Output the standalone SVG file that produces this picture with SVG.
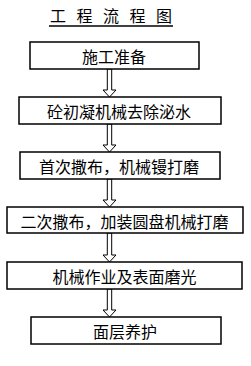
<svg xmlns="http://www.w3.org/2000/svg" width="251" height="366" viewBox="0 0 251 366">
<style>
.box{fill:#fff;stroke:#000;stroke-width:1.5}
.lbl{font-family:"Noto Sans CJK SC","Noto Sans",sans-serif;font-size:16px;fill:#000;text-anchor:middle;dominant-baseline:central}
.ttl{font-family:"Noto Sans CJK SC","Noto Sans",sans-serif;font-size:16px;fill:#000}
.arr{fill:#fff;stroke:#000;stroke-width:1}
</style>
<rect width="251" height="366" fill="#fff"/>
<g id="title">
<text class="ttl" x="50 76.5 103 129.5 156" y="22">工程流程图</text>
<line x1="49" y1="26" x2="173" y2="26" stroke="#000" stroke-width="1.5"/>
</g>
<g id="connectors">
<polygon class="arr" points="107.3,69 111.7,69 111.7,90 116,90 109.5,97 103,90 107.3,90"/>
<polygon class="arr" points="107.3,124 111.7,124 111.7,145 116,145 109.5,152 103,145 107.3,145"/>
<polygon class="arr" points="107.3,179 111.7,179 111.7,200 116,200 109.5,207 103,200 107.3,200"/>
<polygon class="arr" points="107.3,233 111.7,233 111.7,255 116,255 109.5,262 103,255 107.3,255"/>
<polygon class="arr" points="107.3,289 111.7,289 111.7,310 116,310 109.5,317 103,310 107.3,310"/>
</g>
<g id="n1"><rect class="box" x="30" y="42" width="169" height="27"/><text class="lbl" x="114" y="56">施工准备</text></g>
<g id="n2"><rect class="box" x="19" y="97" width="202" height="27"/><text class="lbl" x="119" y="111">砼初凝机械去除泌水</text></g>
<g id="n3"><rect class="box" x="20" y="152" width="200" height="27"/><text class="lbl" x="119" y="166">首次撒布，机械镘打磨</text></g>
<g id="n4"><rect class="box" x="7" y="207" width="236" height="26"/><text class="lbl" x="124.5" y="220.5">二次撒布，加装圆盘机械打磨</text></g>
<g id="n5"><rect class="box" x="7" y="262" width="235" height="27"/><text class="lbl" x="124.5" y="276">机械作业及表面磨光</text></g>
<g id="n6"><rect class="box" x="31" y="317" width="190" height="27"/><text class="lbl" x="125" y="331">面层养护</text></g>
</svg>
